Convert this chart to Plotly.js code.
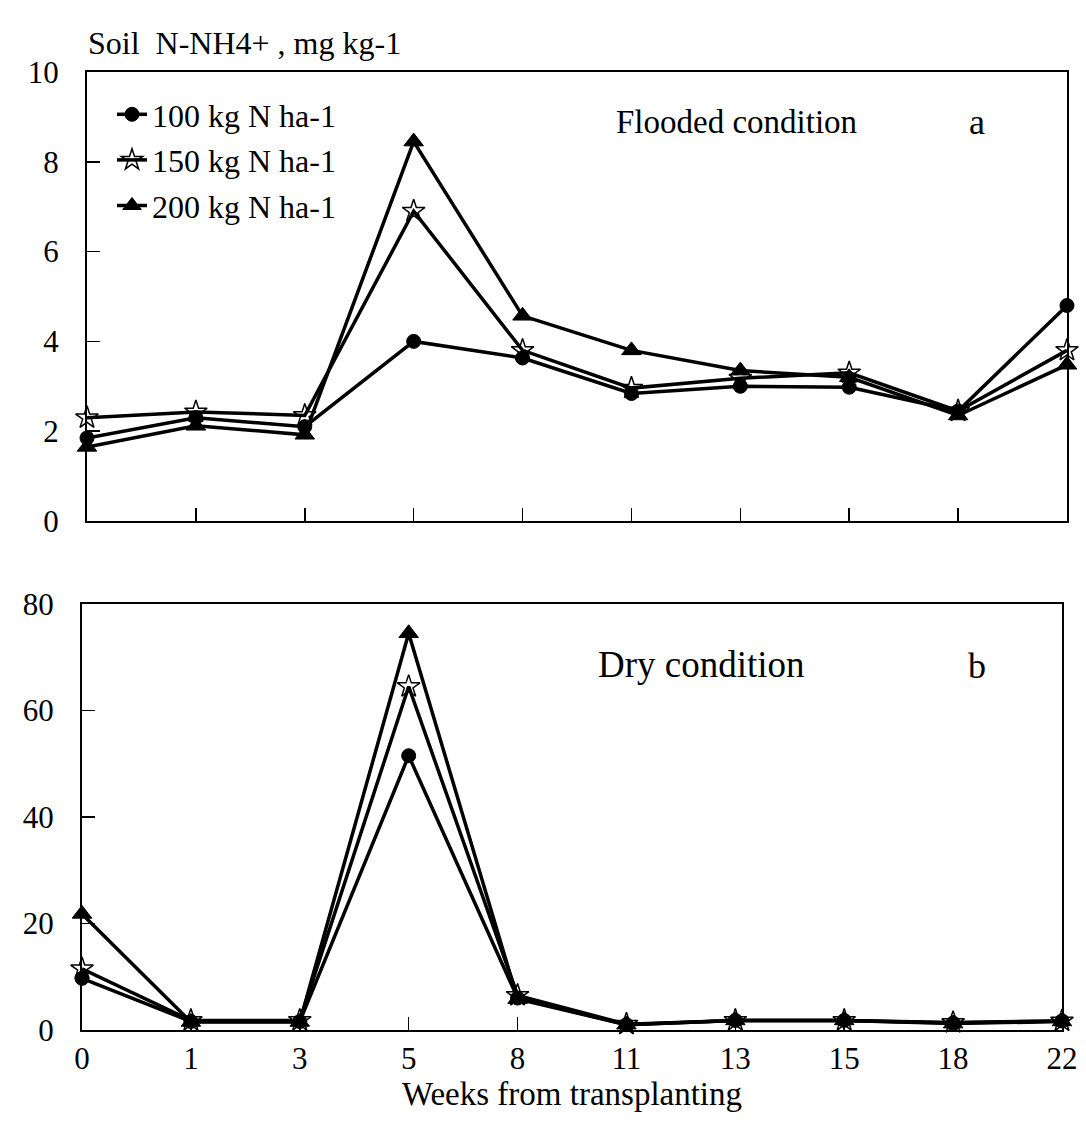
<!DOCTYPE html>
<html>
<head>
<meta charset="utf-8">
<script src="https://cdn.plot.ly/plotly-3.0.1.min.js"></script>
<style>html,body{margin:0;padding:0;background:#fff;}#chart{width:1086px;height:1133px;}</style>
</head>
<body>
<div id="chart"></div>
<script>
// Weeks from transplanting (categorical, evenly spaced)
const weeks = ['0', '1', '3', '5', '8', '11', '13', '15', '18', '22'];
const seriesNames = ['100 kg N ha-1', '150 kg N ha-1', '200 kg N ha-1'];

// Panel a: flooded condition, soil N-NH4+ (mg kg-1)
const flooded100 = [1.85, 2.30, 2.10, 4.00, 3.63, 2.84, 3.00, 2.98, 2.45, 4.80];
const flooded150 = [2.30, 2.43, 2.35, 6.90, 3.80, 2.96, 3.18, 3.30, 2.45, 3.80];
const flooded200 = [1.65, 2.12, 1.92, 8.45, 4.57, 3.80, 3.35, 3.20, 2.35, 3.48];

// Panel b: dry condition, soil N-NH4+ (mg kg-1)
const dry100 = [9.7, 1.6, 1.6, 51.5, 6.0, 1.0, 1.8, 1.8, 1.3, 1.7];
const dry150 = [11.5, 1.8, 1.8, 64.5, 6.5, 1.1, 1.8, 1.8, 1.4, 1.7];
const dry200 = [21.8, 1.5, 1.5, 74.5, 5.8, 1.0, 1.8, 1.8, 1.2, 1.6];

const FONT = "Liberation Serif, Times New Roman, serif";
const W = 1086, H = 1133;
const px = v => v / W;
const py = v => 1 - v / H;

const markers = [
  {symbol: 'circle', size: 14, color: '#000', line: {color: '#000', width: 1}},
  {symbol: 'star-open', size: 17, color: '#000', line: {color: '#000', width: 1.5}},
  {symbol: 'triangle-up', size: 17, color: '#000', line: {color: '#000', width: 1}}
];

const floodedSets = [flooded100, flooded150, flooded200];
const drySets = [dry100, dry150, dry200];
const traces = [];
floodedSets.forEach((ys, i) => {
  traces.push({
    x: weeks, y: ys, type: 'scatter', mode: 'lines+markers',
    name: seriesNames[i], legendgroup: 'g' + i, showlegend: true,
    line: {color: '#000', width: 3.5}, marker: markers[i],
    cliponaxis: false, xaxis: 'x', yaxis: 'y'
  });
});
drySets.forEach((ys, i) => {
  traces.push({
    x: weeks, y: ys, type: 'scatter', mode: 'lines+markers',
    name: seriesNames[i], legendgroup: 'g' + i, showlegend: false,
    line: {color: '#000', width: 3.5}, marker: markers[i],
    cliponaxis: false, xaxis: 'x2', yaxis: 'y2'
  });
});

const axisCommon = {
  showline: true, mirror: true, linecolor: '#000', linewidth: 2,
  ticks: 'inside', ticklen: 13, tickwidth: 1.5, tickcolor: '#000',
  showgrid: false, zeroline: false,
  tickfont: {family: FONT, size: 31, color: '#000'}
};

const layout = {
  width: W, height: H,
  margin: {l: 0, r: 0, t: 0, b: 0},
  paper_bgcolor: '#fff', plot_bgcolor: '#fff',
  font: {family: FONT, size: 31, color: '#000'},
  showlegend: true,
  legend: {
    x: px(112), y: py(87), xanchor: 'left', yanchor: 'top',
    bgcolor: 'rgba(0,0,0,0)', borderwidth: 0,
    font: {family: FONT, size: 32, color: '#000'},
    traceorder: 'grouped', tracegroupgap: 1, itemwidth: 30
  },
  xaxis: Object.assign({}, axisCommon, {
    type: 'category', categoryorder: 'array', categoryarray: weeks,
    range: [0, 9], domain: [px(87), px(1067)], anchor: 'y',
    showticklabels: false
  }),
  yaxis: Object.assign({}, axisCommon, {
    range: [0, 10], dtick: 2, domain: [py(521), py(72)], anchor: 'x',
    ticklabelstandoff: 20
  }),
  xaxis2: Object.assign({}, axisCommon, {
    type: 'category', categoryorder: 'array', categoryarray: weeks,
    range: [0, 9], domain: [px(82), px(1062)], anchor: 'y2',
    ticklabelstandoff: 0,
    title: {text: 'Weeks from transplanting', font: {family: FONT, size: 33, color: '#000'}, standoff: 0}
  }),
  yaxis2: Object.assign({}, axisCommon, {
    range: [0, 80], dtick: 20, domain: [py(1030), py(604)], anchor: 'x2',
    ticklabelstandoff: 20
  }),
  annotations: [
    {xref: 'paper', yref: 'paper', x: px(86), y: py(43), xanchor: 'left', yanchor: 'middle',
     text: 'Soil\u00A0 N-NH4+ , mg kg-1', showarrow: false, font: {family: FONT, size: 32, color: '#000'}},
    {xref: 'paper', yref: 'paper', x: px(614), y: py(122), xanchor: 'left', yanchor: 'middle',
     text: 'Flooded condition', showarrow: false, font: {family: FONT, size: 33, color: '#000'}},
    {xref: 'paper', yref: 'paper', x: px(977), y: py(122), xanchor: 'center', yanchor: 'middle',
     text: 'a', showarrow: false, font: {family: FONT, size: 36, color: '#000'}},
    {xref: 'paper', yref: 'paper', x: px(596), y: py(664), xanchor: 'left', yanchor: 'middle',
     text: 'Dry condition', showarrow: false, font: {family: FONT, size: 37, color: '#000'}},
    {xref: 'paper', yref: 'paper', x: px(977), y: py(666), xanchor: 'center', yanchor: 'middle',
     text: 'b', showarrow: false, font: {family: FONT, size: 36, color: '#000'}}
  ]
};

Plotly.newPlot('chart', traces, layout, {displayModeBar: false, staticPlot: true});
</script>
</body>
</html>
